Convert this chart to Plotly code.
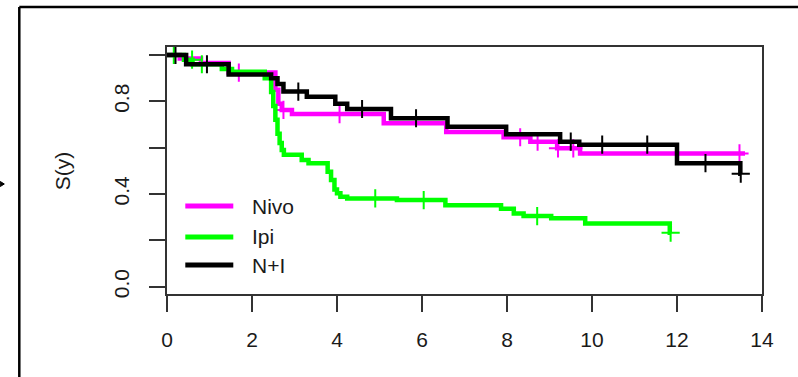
import plotly.graph_objects as go

# ---------------- data ----------------
nivo_times = [0, 0.3, 0.8, 1.45, 2.55, 2.62, 2.7, 2.94, 5.1, 6.57, 7.92, 8.55, 9.18, 9.72]
nivo_surv = [1.0, 0.985, 0.965, 0.924, 0.85, 0.79, 0.763, 0.745, 0.705, 0.668, 0.645, 0.626, 0.597, 0.575]
nivo_end = 13.6
nivo_censor = [1.69, 2.74, 4.06, 8.31, 8.72, 9.2, 9.56, 13.47]

ipi_times = [0, 0.4, 0.6, 1.29, 1.53, 2.3, 2.45, 2.5, 2.55, 2.6, 2.65, 2.7, 2.75, 3.17, 3.33,
             3.78, 3.86, 3.94, 4.0, 4.08, 4.24, 5.41, 6.55, 7.86, 8.16, 8.39, 9.04, 9.84, 11.83]
ipi_surv = [1.0, 0.98, 0.96, 0.94, 0.928, 0.9, 0.84, 0.78, 0.72, 0.66, 0.62, 0.59, 0.57, 0.547, 0.533,
            0.496, 0.46, 0.42, 0.403, 0.388, 0.381, 0.374, 0.351, 0.336, 0.316, 0.305, 0.295, 0.273, 0.233]
ipi_end = 11.85
ipi_censor = [0.16, 0.59, 0.82, 4.9, 6.04, 8.71, 11.85]

ni_times = [0, 0.45, 1.45, 2.45, 2.6, 2.74, 3.29, 3.96, 4.24, 5.27, 6.6, 7.98, 9.25, 9.7, 12.0, 13.49]
ni_surv = [1.0, 0.96, 0.916, 0.9, 0.875, 0.842, 0.82, 0.79, 0.767, 0.727, 0.69, 0.658, 0.626, 0.613, 0.533, 0.488]
ni_end = 13.5
ni_censor = [0.2, 0.94, 3.09, 4.59, 5.86, 9.5, 10.24, 11.3, 12.67, 13.5]

series_names = ["Nivo", "Ipi", "N+I"]
series_colors = ["#ff00ff", "#00ff00", "#000000"]

x_ticks = [0, 2, 4, 6, 8, 10, 12, 14]
y_ticks = [0.0, 0.2, 0.4, 0.6, 0.8, 1.0]
y_ticklabels = ["0.0", "", "0.4", "", "0.8", ""]


def surv_at(times, surv, t):
    val = surv[0]
    for tt, s in zip(times, surv):
        if tt <= t:
            val = s
    return val


FONT = "Liberation Sans, Arial, sans-serif"
fig = go.Figure()

datasets = [
    (nivo_times, nivo_surv, nivo_end, nivo_censor),
    (ipi_times, ipi_surv, ipi_end, ipi_censor),
    (ni_times, ni_surv, ni_end, ni_censor),
]

for (times, surv, end, cens), name, col in zip(datasets, series_names, series_colors):
    fig.add_trace(go.Scatter(
        x=list(times) + [end], y=list(surv) + [surv[-1]],
        mode="lines", line=dict(color=col, width=4.5, shape="hv"),
        name=name, showlegend=False, hoverinfo="skip"))
    fig.add_trace(go.Scatter(
        x=cens, y=[surv_at(times, surv, c) for c in cens],
        mode="markers",
        marker=dict(symbol="cross-thin", size=13, line=dict(color=col, width=2)),
        showlegend=False, hoverinfo="skip"))

# manual legend (R style, no box)
leg_y_px = [206, 237, 265]
for name, col, ypx in zip(series_names, series_colors, leg_y_px):
    yp = (294 - ypx) / 247
    fig.add_shape(type="line", xref="paper", yref="paper",
                  x0=(185 - 166.7) / 595, x1=(233 - 166.7) / 595, y0=yp, y1=yp,
                  line=dict(color=col, width=5))
    fig.add_annotation(xref="paper", yref="paper", x=(250 - 166.7) / 595, y=yp,
                       text=name, showarrow=False, xanchor="left", yanchor="middle",
                       font=dict(family=FONT, size=21, color="#1a1a1a"))

# y axis title
fig.add_annotation(xref="paper", yref="paper", x=(62.5 - 166.7) / 595, y=0.5,
                   text="S(y)", textangle=-90, showarrow=False,
                   xanchor="center", yanchor="middle",
                   font=dict(family=FONT, size=21, color="#1a1a1a"))

# outer frame (top & left edges visible)
fig.add_shape(type="line", xref="paper", yref="paper",
              x0=(19 - 166.7) / 595, x1=(800 - 166.7) / 595,
              y0=(294 - 7) / 247, y1=(294 - 7) / 247, line=dict(color="black", width=2.5))
fig.add_shape(type="line", xref="paper", yref="paper",
              x0=(19 - 166.7) / 595, x1=(19 - 166.7) / 595,
              y0=(294 - 7) / 247, y1=(294 - 380) / 247, line=dict(color="black", width=2.5))
# small arrow head at left edge
fig.add_shape(type="path", xref="paper", yref="paper",
              path="M {a},{b} L {c},{d} L {a},{e} Z".format(
                  a=(0 - 166.7) / 595, b=(294 - 181.5) / 247,
                  c=(4 - 166.7) / 595, d=(294 - 184) / 247, e=(294 - 186.5) / 247),
              fillcolor="black", line=dict(color="black", width=1))

axis_common = dict(showgrid=False, zeroline=False, showline=True, mirror=True,
                   linecolor="#333333", linewidth=2, ticks="outside", ticklen=16,
                   tickwidth=2, tickcolor="#333333",
                   tickfont=dict(family=FONT, size=21, color="#1a1a1a"))

fig.update_layout(
    width=798, height=377,
    margin=dict(l=167, r=36, t=47, b=83),
    paper_bgcolor="white", plot_bgcolor="white",
    xaxis=dict(range=[0, 14], tickvals=x_ticks, ticktext=[str(v) for v in x_ticks],
               ticklabelstandoff=10, **axis_common),
    yaxis=dict(range=[-0.0315, 1.0345], tickvals=y_ticks, ticktext=y_ticklabels,
               tickangle=-90, ticklabelstandoff=12, **axis_common),
)

fig.write_html("out.html", config={"displayModeBar": False},
               post_script="document.body.style.margin='0';document.body.style.overflow='hidden';")
